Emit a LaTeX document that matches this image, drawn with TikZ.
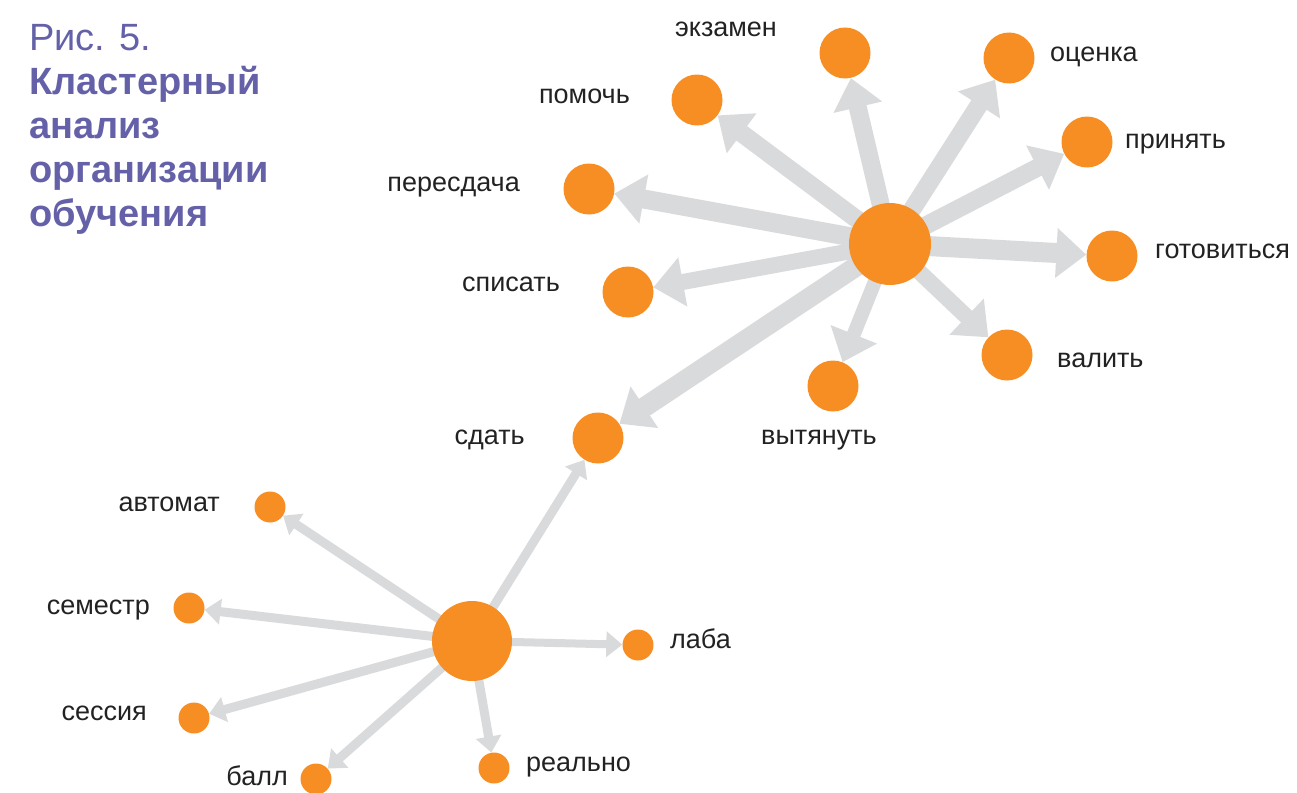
\documentclass[tikz,border=0pt]{standalone}
\usepackage{fontspec}
\setmainfont{Liberation Sans}
\usetikzlibrary{arrows.meta,backgrounds}
\definecolor{orng}{HTML}{F68E23}
\definecolor{edgegray}{HTML}{D9DADC}
\definecolor{ttl}{HTML}{6461A8}
\definecolor{lbl}{HTML}{222222}
\tikzset{
  hubnode/.style={circle,fill=orng,inner sep=0pt,minimum size=82pt},
  bignode/.style={circle,fill=orng,inner sep=0pt,minimum size=51pt},
  smallnode/.style={circle,fill=orng,inner sep=0pt,minimum size=31pt},
  lab/.style={inner sep=0pt,text=lbl,font=\fontsize{27}{32}\selectfont},
  thickarr/.style={draw=edgegray,line width=#1,-{Triangle[width=48pt,length=30pt]}},
  thinarr/.style={draw=edgegray,line width=#1,-{Triangle[width=25pt,length=16pt]}},
}
\begin{document}
\begin{tikzpicture}[x=1pt,y=-1pt]
\useasboundingbox (0,0) rectangle (1297,792);
% title
\node[anchor=north west,inner sep=0pt,text=ttl,align=left,font=\fontsize{38}{44}\selectfont] (title) at (29,24)
  {Рис. 5.\\\textbf{Кластерный}\\\textbf{анализ}\\\textbf{организации}\\\textbf{обучения}};
% top cluster
\node[hubnode] (h1) at (890,244) {};
\node[bignode] (ekz) at (845,53) {};
\node[bignode] (oc) at (1009,58) {};
\node[bignode] (pom) at (697,100) {};
\node[bignode] (pri) at (1087,142) {};
\node[bignode] (per) at (589,189) {};
\node[bignode] (got) at (1112,256) {};
\node[bignode] (spi) at (628,292) {};
\node[bignode] (val) at (1007,355) {};
\node[bignode] (vyt) at (833,386) {};
\node[bignode] (sda) at (598,438) {};
% bottom cluster
\node[hubnode,minimum size=80pt] (h2) at (472,641) {};
\node[smallnode] (avt) at (270,507) {};
\node[smallnode] (sem) at (189,608) {};
\node[smallnode] (ses) at (194,718) {};
\node[smallnode] (bal) at (316,779) {};
\node[smallnode] (rea) at (494,768) {};
\node[smallnode] (lab) at (638,645) {};
% labels
\node[lab,anchor=mid] (lekz) at (726,34) {экзамен};
\node[lab,anchor=mid west] (loc) at (1050,59) {оценка};
\node[lab,anchor=mid east] (lpom) at (630,101) {помочь};
\node[lab,anchor=mid west] (lpri) at (1125,146) {принять};
\node[lab,anchor=mid east] (lper) at (520,189) {пересдача};
\node[lab,anchor=mid west] (lgot) at (1155,256) {готовиться};
\node[lab,anchor=mid east] (lspi) at (560,289) {списать};
\node[lab,anchor=mid west] (lval) at (1057,365) {валить};
\node[lab,anchor=mid] (lvyt) at (819,442) {вытянуть};
\node[lab,anchor=mid east] (lsda) at (525,442) {сдать};
\node[lab,anchor=mid east] (lavt) at (220,509) {автомат};
\node[lab,anchor=mid east] (lsem) at (150,612) {семестр};
\node[lab,anchor=mid east] (lses) at (147,718) {сессия};
\node[lab,anchor=mid east] (lbal) at (288,783) {балл};
\node[lab,anchor=mid west] (lrea) at (526,769) {реально};
\node[lab,anchor=mid west] (llab) at (670,646) {лаба};
% edges
\begin{pgfonlayer}{background}
\draw[thickarr=18pt] (h1.center) -- (ekz);
\draw[thickarr=18pt] (h1.center) -- (oc);
\draw[thickarr=18pt] (h1.center) -- (pom);
\draw[thickarr=18pt] (h1.center) -- (pri);
\draw[thickarr=19pt] (h1.center) -- (per);
\draw[thickarr=20pt] (h1.center) -- (got);
\draw[thickarr=16pt] (h1.center) -- (spi);
\draw[thickarr=16pt] (h1.center) -- (val);
\draw[thickarr=14pt] (h1.center) -- (vyt);
\draw[thickarr=20pt] (h1.center) -- (sda);
\draw[thinarr=9pt] (h2.center) -- (sda);
\draw[thinarr=9pt] (h2.center) -- (avt);
\draw[thinarr=9pt] (h2.center) -- (sem);
\draw[thinarr=9pt] (h2.center) -- (ses);
\draw[thinarr=9pt] (h2.center) -- (bal);
\draw[thinarr=9pt] (h2.center) -- (rea);
\draw[thinarr=8pt] (h2.center) -- (lab);
\end{pgfonlayer}
\end{tikzpicture}
\end{document}
